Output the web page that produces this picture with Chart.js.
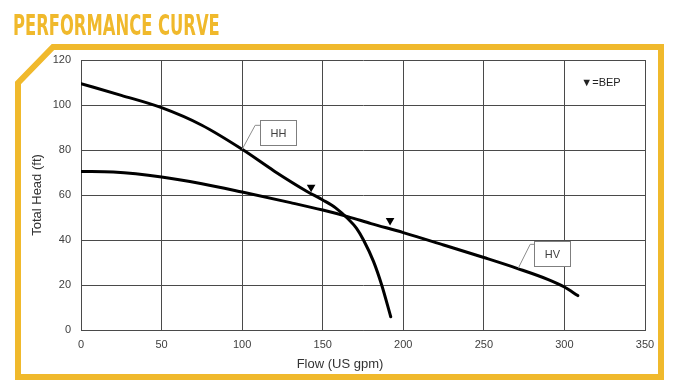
<!DOCTYPE html>
<html>
<head>
<meta charset="utf-8">
<script src="https://cdn.jsdelivr.net/npm/chart.js@4.4.1/dist/chart.umd.min.js"></script>
<style>
    html, body { margin: 0; padding: 0; background: #fff; }
    #wrap { position: relative; width: 680px; height: 384px; overflow: hidden; }
    #pageTitle {
        position: absolute;
        left: 13px;
        top: 11px;
        font-family: 'Liberation Sans Narrow', 'DejaVu Sans Condensed', 'Roboto', sans-serif;
        font-weight: bold;
        font-size: 29px;
        line-height: 29px;
        color: #F0B92C;
        white-space: nowrap;
        transform-origin: 0 0;
    }
    canvas { display: block; }
</style>
</head>
<body>
<div id="wrap">
    <canvas id="curveChart" width="680" height="384"></canvas>
    <div id="pageTitle">PERFORMANCE CURVE</div>
</div>
<script>
// Axis ticks
const flowTicks = [0, 50, 100, 150, 200, 250, 300, 350];
const headTicks = [0, 20, 40, 60, 80, 100, 120];

// HH curve (flow in US gpm, head in ft)
const flowHH = [0, 25, 50, 75, 100, 120, 140, 150, 158, 166, 171, 175.3, 181.5, 186.6, 192.2];
const headHH = [109.5, 104.3, 98.8, 91.0, 80.3, 70.6, 61.7, 57.8, 54.3, 49.2, 45.2, 40, 30.5, 20, 5.9];

// HV curve
const flowHV = [0, 20, 50, 75, 100, 130, 150, 166, 180, 200, 225, 250, 271, 290, 300, 308.3];
const headHV = [70.5, 70.2, 68, 65, 61.3, 56.6, 53.3, 50.3, 47.3, 43.3, 37.8, 32.2, 27.3, 22.4, 19.1, 15.3];

// Best efficiency points
const bepFlow = [142.8, 191.8];
const bepHead = [63.4, 48.7];

const curveNames = ['HH', 'HV'];

const YELLOW = '#F0B92C';
const GRID = '#4a4a4a';
const TEXT = '#404040';

let curveChart;

window.addEventListener('DOMContentLoaded', () => {
    fitTitle();
    renderCurveChart();
});

function fitTitle() {
    const el = document.getElementById('pageTitle');
    const w = el.offsetWidth;
    if (w > 0) {
        el.style.transform = `scaleX(${207 / w})`;
    }
}

function toPoints(xs, ys) {
    return xs.map((x, i) => ({ x: x, y: ys[i] }));
}

// yellow frame with the cut corner, drawn behind the chart
const framePlugin = {
    id: 'frame',
    beforeDraw(chart) {
        const ctx = chart.ctx;
        ctx.save();
        ctx.strokeStyle = YELLOW;
        ctx.lineWidth = 6;
        ctx.lineJoin = 'miter';
        ctx.beginPath();
        ctx.moveTo(18, 377);
        ctx.lineTo(18, 83);
        ctx.lineTo(53, 47);
        ctx.lineTo(661, 47);
        ctx.lineTo(661, 377);
        ctx.closePath();
        ctx.stroke();
        ctx.restore();
    }
};

// HH / HV callouts, BEP key and x-axis title
const notesPlugin = {
    id: 'notes',
    afterDraw(chart) {
        const ctx = chart.ctx;
        const xs = chart.scales.x;
        const ys = chart.scales.y;
        const notes = [
            { text: curveNames[0], fx: 100, hy: 80.3, dx: 18, dy: -29, ex: 13, ey: -24 },
            { text: curveNames[1], fx: 271.3, hy: 27.4, dx: 16, dy: -27, ex: 12, ey: -24 }
        ];

        ctx.save();
        notes.forEach(n => {
            const px = xs.getPixelForValue(n.fx);
            const py = ys.getPixelForValue(n.hy);
            ctx.strokeStyle = '#8c8c8c';
            ctx.lineWidth = 1;
            ctx.beginPath();
            ctx.moveTo(px, py);
            ctx.lineTo(px + n.ex, py + n.ey);
            ctx.lineTo(px + n.dx, py + n.ey);
            ctx.stroke();

            const bx = Math.round(px + n.dx) + 0.5;
            const by = Math.round(py + n.dy) + 0.5;
            ctx.fillStyle = '#fff';
            ctx.fillRect(bx, by, 36, 25);
            ctx.strokeStyle = '#7f7f7f';
            ctx.strokeRect(bx, by, 36, 25);

            ctx.fillStyle = TEXT;
            ctx.font = '11px "Liberation Sans", Arial, sans-serif';
            ctx.textAlign = 'center';
            ctx.textBaseline = 'middle';
            ctx.fillText(n.text, bx + 18, by + 13);
        });

        ctx.fillStyle = '#222';
        ctx.font = '11px "Liberation Sans", "DejaVu Sans", sans-serif';
        ctx.textAlign = 'left';
        ctx.textBaseline = 'middle';
        ctx.fillText('\u25BC=BEP', xs.getPixelForValue(310.5), ys.getPixelForValue(109.6));

        ctx.fillStyle = '#333';
        ctx.font = '13px "Liberation Sans", Arial, sans-serif';
        ctx.textAlign = 'center';
        ctx.fillText('Flow (US gpm)', 340, 364);
        ctx.restore();
    }
};

function renderCurveChart() {
    const ctx = document.getElementById('curveChart');

    if (curveChart) {
        curveChart.destroy();
    }

    curveChart = new Chart(ctx, {
        type: 'scatter',
        data: {
            datasets: [
                {
                    label: curveNames[0],
                    data: toPoints(flowHH, headHH),
                    showLine: true,
                    borderColor: '#000',
                    borderWidth: 3,
                    borderCapStyle: 'round',
                    pointRadius: 0,
                    cubicInterpolationMode: 'monotone'
                },
                {
                    label: curveNames[1],
                    data: toPoints(flowHV, headHV),
                    showLine: true,
                    borderColor: '#000',
                    borderWidth: 3,
                    borderCapStyle: 'round',
                    pointRadius: 0,
                    cubicInterpolationMode: 'monotone'
                },
                {
                    label: 'BEP',
                    data: toPoints(bepFlow, bepHead),
                    showLine: false,
                    pointStyle: 'triangle',
                    rotation: 180,
                    pointRadius: 5,
                    backgroundColor: '#000',
                    borderWidth: 0
                }
            ]
        },
        options: {
            responsive: false,
            animation: false,
            devicePixelRatio: 1,
            layout: {
                padding: { left: 20, top: 60, right: 35, bottom: 0 }
            },
            plugins: {
                legend: { display: false },
                tooltip: { enabled: false }
            },
            scales: {
                x: {
                    type: 'linear',
                    min: 0,
                    max: 350,
                    afterFit: (scale) => { scale.height = 54; },
                    afterBuildTicks: (scale) => { scale.ticks = flowTicks.map(v => ({ value: v })); },
                    grid: { color: GRID, lineWidth: 1, drawTicks: false },
                    border: { color: GRID, width: 1 },
                    ticks: {
                        padding: 8,
                        color: TEXT,
                        font: { size: 11, family: '"Liberation Sans", Arial, sans-serif' }
                    }
                },
                y: {
                    type: 'linear',
                    min: 0,
                    max: 120,
                    afterFit: (scale) => { scale.width = 61; },
                    afterBuildTicks: (scale) => { scale.ticks = headTicks.map(v => ({ value: v })); },
                    grid: { color: GRID, lineWidth: 1, drawTicks: false },
                    border: { color: GRID, width: 1 },
                    ticks: {
                        padding: 10,
                        color: TEXT,
                        font: { size: 11, family: '"Liberation Sans", Arial, sans-serif' }
                    },
                    title: {
                        display: true,
                        text: 'Total Head (ft)',
                        color: '#333',
                        padding: { top: 10, bottom: 0 },
                        font: { size: 13, family: '"Liberation Sans", Arial, sans-serif' }
                    }
                }
            }
        },
        plugins: [framePlugin, notesPlugin]
    });
}
</script>
</body>
</html>
